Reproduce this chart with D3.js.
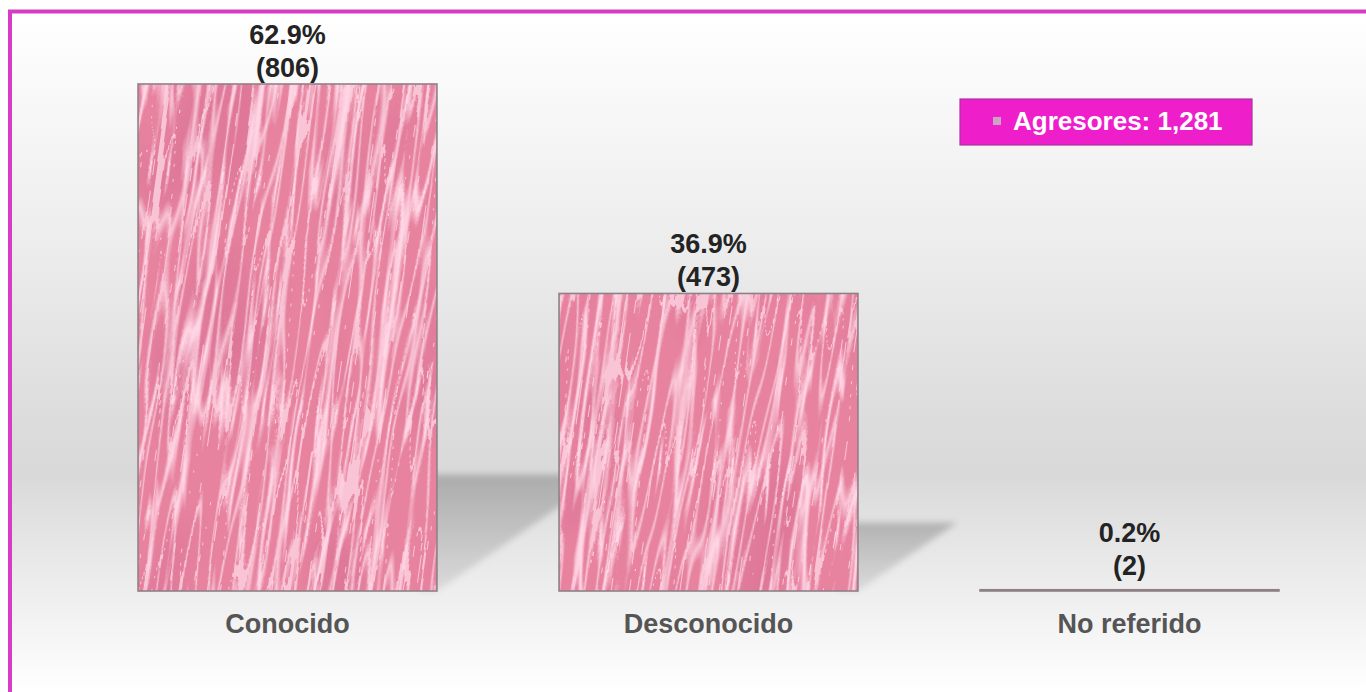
<!DOCTYPE html>
<html>
<head>
<meta charset="utf-8">
<script src="https://cdn.jsdelivr.net/npm/d3@7"></script>
<style>
  html, body { margin: 0; padding: 0; background: #ffffff; overflow: hidden; }
  svg { display: block; }
  text { font-family: "Liberation Sans", Arial, sans-serif; font-weight: bold; }
</style>
</head>
<body>
<svg id="chart" width="1366" height="692"></svg>
<script>
// ---- data ----
const categories = ["Conocido", "Desconocido", "No referido"];
const counts = [806, 473, 2];
const percentLabels = ["62.9%", "36.9%", "0.2%"];
const legendLabel = "Agresores: 1,281";

const W = 1366, H = 692;
const svg = d3.select("#chart");
const defs = svg.append("defs");

// background gradient
const bg = defs.append("linearGradient").attr("id", "bgGrad")
  .attr("gradientUnits", "userSpaceOnUse").attr("x1", 0).attr("y1", 12).attr("x2", 0).attr("y2", 692);
[[0, "#ffffff"], [0.13, "#f8f8f8"], [0.35, "#ececec"], [0.6, "#dcdcdc"], [0.68, "#d9d9d9"],
 [0.8, "#e8e8e8"], [0.89, "#f2f2f2"], [1, "#ffffff"]].forEach(([o, c]) =>
  bg.append("stop").attr("offset", o).attr("stop-color", c));

// shadow gradient
const sg = defs.append("linearGradient").attr("id", "shGrad").attr("x1", 0).attr("y1", 0).attr("x2", 0).attr("y2", 1);
sg.append("stop").attr("offset", 0).attr("stop-color", "#000").attr("stop-opacity", 0.21);
sg.append("stop").attr("offset", 1).attr("stop-color", "#000").attr("stop-opacity", 0.08);
defs.append("filter").attr("id", "blur").attr("x", "-20%").attr("y", "-20%").attr("width", "140%").attr("height", "140%")
  .append("feGaussianBlur").attr("stdDeviation", 3);

// fur texture filter
const fur = defs.append("filter").attr("id", "fur").attr("x", 0).attr("y", 0).attr("width", 1).attr("height", 1)
  .attr("color-interpolation-filters", "sRGB");
fur.append("feTurbulence").attr("type", "turbulence").attr("baseFrequency", "0.055 0.0045")
  .attr("numOctaves", 2).attr("seed", 7).attr("result", "n1");
fur.append("feColorMatrix").attr("in", "n1").attr("type", "matrix")
  .attr("values", "0 0 0 0 1  0 0 0 0 0.84  0 0 0 0 0.90  -6.5 0 0 0 1.15").attr("result", "streaks");
fur.append("feTurbulence").attr("type", "turbulence").attr("baseFrequency", "0.08 0.006")
  .attr("numOctaves", 1).attr("seed", 21).attr("result", "n3");
fur.append("feColorMatrix").attr("in", "n3").attr("type", "matrix")
  .attr("values", "0 0 0 0 1  0 0 0 0 0.86  0 0 0 0 0.91  -7 0 0 0 0.75").attr("result", "streaks2");
fur.append("feTurbulence").attr("type", "fractalNoise").attr("baseFrequency", "0.012 0.006")
  .attr("numOctaves", 2).attr("seed", 3).attr("result", "n2");
fur.append("feColorMatrix").attr("in", "n2").attr("type", "matrix")
  .attr("values", "0 0 0 0 0.82  0 0 0 0 0.40  0 0 0 0 0.56  1.6 0 0 0 -0.8").attr("result", "dark");
fur.append("feComposite").attr("in", "dark").attr("in2", "SourceGraphic").attr("operator", "in").attr("result", "darkIn");
fur.append("feComposite").attr("in", "streaks").attr("in2", "SourceGraphic").attr("operator", "in").attr("result", "strIn");
fur.append("feComposite").attr("in", "streaks2").attr("in2", "SourceGraphic").attr("operator", "in").attr("result", "strIn2");
const fm = fur.append("feMerge");
fm.append("feMergeNode").attr("in", "SourceGraphic");
fm.append("feMergeNode").attr("in", "darkIn");
fm.append("feMergeNode").attr("in", "strIn2");
fm.append("feMergeNode").attr("in", "strIn");

const pat = defs.append("pattern").attr("id", "furPat").attr("patternUnits", "userSpaceOnUse")
  .attr("x", -300).attr("y", -300)
  .attr("width", 2000).attr("height", 2000).attr("patternTransform", "rotate(8)");
pat.append("rect").attr("width", 2000).attr("height", 2000).attr("fill", "#e7839f").attr("filter", "url(#fur)");

// frame / background
svg.append("rect").attr("x", 10).attr("y", 11.5).attr("width", 1420).attr("height", 760)
  .attr("fill", "url(#bgGrad)").attr("stroke", "#d63cc4").attr("stroke-width", 4);

// ---- scales ----
const x = d3.scaleBand().domain(categories).range([77, 1340]).paddingInner(0.29).paddingOuter(0.145);
const y = d3.scaleLinear().domain([0, d3.max(counts)]).range([591, 84]);
const data = categories.map((c, i) => ({ c, v: counts[i], p: percentLabels[i] }));

// shadows
svg.append("g").selectAll("path").data(data.filter(d => d.v > 10)).join("path")
  .attr("d", d => {
    const xr = x(d.c) + x.bandwidth();
    const base = y(0);
    const depth = 0.23 * (y(0) - y(d.v));
    const ext = depth * 1.45;
    return `M${xr - 20},${base} L${xr - 20},${base - depth} L${xr + ext},${base - depth} L${xr},${base} Z`;
  })
  .attr("fill", "url(#shGrad)").attr("filter", "url(#blur)");

// bars
svg.append("g").selectAll("rect").data(data).join("rect")
  .attr("x", d => x(d.c))
  .attr("y", d => y(d.v))
  .attr("width", x.bandwidth())
  .attr("height", d => y(0) - y(d.v))
  .attr("fill", "url(#furPat)")
  .attr("stroke", "#8f8088").attr("stroke-width", 1.6);

// value labels
const lbl = svg.append("g").attr("text-anchor", "middle").attr("fill", "#232323").attr("font-size", 27);
data.forEach(d => {
  const cx = x(d.c) + x.bandwidth() / 2;
  const b2 = Math.min(y(d.v) - 7, y(0) - 16);
  lbl.append("text").attr("x", cx).attr("y", b2 - 33).text(d.p);
  lbl.append("text").attr("x", cx).attr("y", b2).text(`(${d.v})`);
});

// category axis labels
const xAxis = d3.axisBottom(x).tickSize(0).tickPadding(0);
const ax = svg.append("g").attr("transform", `translate(0,${y(0)})`).call(xAxis);
ax.select(".domain").remove();
ax.selectAll("text").attr("dy", 0).attr("y", 42).attr("fill", "#555555")
  .attr("font-size", 27).attr("font-family", '"Liberation Sans", Arial, sans-serif').attr("font-weight", "bold");

// legend
const lg = svg.append("g");
lg.append("rect").attr("x", 960).attr("y", 99).attr("width", 292).attr("height", 46)
  .attr("fill", "#ee1fca").attr("stroke", "#b0309f").attr("stroke-width", 1.2);
lg.append("rect").attr("x", 993).attr("y", 117).attr("width", 8).attr("height", 8).attr("fill", "#cba3c4");
lg.append("text").attr("x", 1013).attr("y", 130).attr("fill", "#ffffff").attr("font-size", 26).text(legendLabel);
</script>
</body>
</html>
